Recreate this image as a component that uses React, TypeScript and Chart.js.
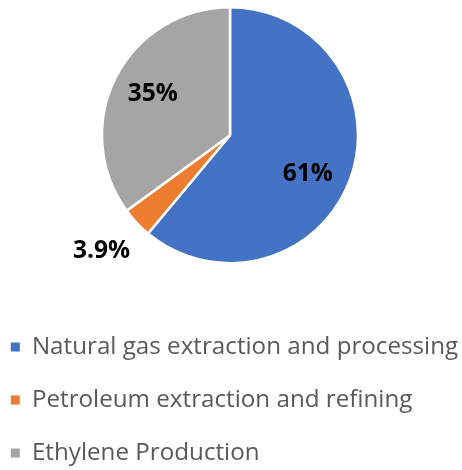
import React, { useEffect, useRef } from "react";
import { Chart, registerables, DoughnutController } from "chart.js";

Chart.register(...registerables);

// Share of emissions by source (percent)
const categories = [
  "Natural gas extraction and processing",
  "Petroleum extraction and refining",
  "Ethylene Production",
];
const shares = [61, 3.9, 35];
const sliceColors = ["#4472C4", "#ED7D31", "#A5A5A5"];

// Where each percentage label sits: fraction of the radius and a small angular nudge (deg)
const labelRadius = [0.68, 1.35, 0.684];
const labelShift = [6.8, 1.2, 1.2];

const CANVAS_W = 496;
const CANVAS_H = 475;
const LEGEND_FONT = 24.2;
const LEGEND_PAD = 28.8;

const percentLabels = {
  id: "percentLabels",
  afterDatasetsDraw(chart: any) {
    const { ctx } = chart;
    const meta = chart.getDatasetMeta(0);
    ctx.save();
    ctx.font = "bold 24.5px 'Open Sans'";
    ctx.fillStyle = "#000000";
    ctx.textAlign = "center";
    ctx.textBaseline = "middle";
    meta.data.forEach((arc: any, i: number) => {
      const { x, y, startAngle, endAngle, outerRadius } = arc.getProps(
        ["x", "y", "startAngle", "endAngle", "outerRadius"],
        true
      );
      const mid = (startAngle + endAngle) / 2 + (labelShift[i] * Math.PI) / 180;
      const r = outerRadius * labelRadius[i];
      ctx.fillText(`${shares[i]}%`, x + Math.cos(mid) * r, y + Math.sin(mid) * r);
    });
    ctx.restore();
  },
};

export default function App() {
  const canvasRef = useRef<HTMLCanvasElement | null>(null);

  useEffect(() => {
    const canvas = canvasRef.current;
    if (!canvas) return;
    const baseLabels = (DoughnutController as any).overrides.plugins.legend.labels
      .generateLabels;
    const chart = new Chart(canvas, {
      type: "pie",
      data: {
        labels: categories,
        datasets: [
          {
            data: shares,
            backgroundColor: sliceColors,
            borderColor: "#ffffff",
            borderWidth: 2.5,
          },
        ],
      },
      options: {
        responsive: false,
        animation: false,
        radius: 128,
        layout: { padding: { top: 7, left: 0, right: 0, bottom: 0 } },
        plugins: {
          tooltip: { enabled: false },
          legend: {
            position: "bottom",
            align: "start",
            title: {
              display: true,
              text: "",
              font: { size: 1 },
              padding: { top: 41.4, bottom: 0 },
            },
            labels: {
              boxWidth: 9,
              boxHeight: 9,
              padding: LEGEND_PAD,
              color: "#595959",
              font: { family: "'Open Sans'", size: LEGEND_FONT },
              generateLabels: (c: any) =>
                baseLabels(c).map((item: any) => ({ ...item, lineWidth: 0 })),
            },
          },
        },
      } as any,
      plugins: [percentLabels],
    });
    return () => chart.destroy();
  }, []);

  return (
    <div
      style={{
        position: "fixed",
        left: 0,
        top: 0,
        width: 462,
        height: 470,
        overflow: "hidden",
        background: "#ffffff",
      }}
    >
      <canvas
        ref={canvasRef}
        width={CANVAS_W}
        height={CANVAS_H}
        style={{ position: "absolute", left: -18, top: 0 }}
      />
    </div>
  );
}
